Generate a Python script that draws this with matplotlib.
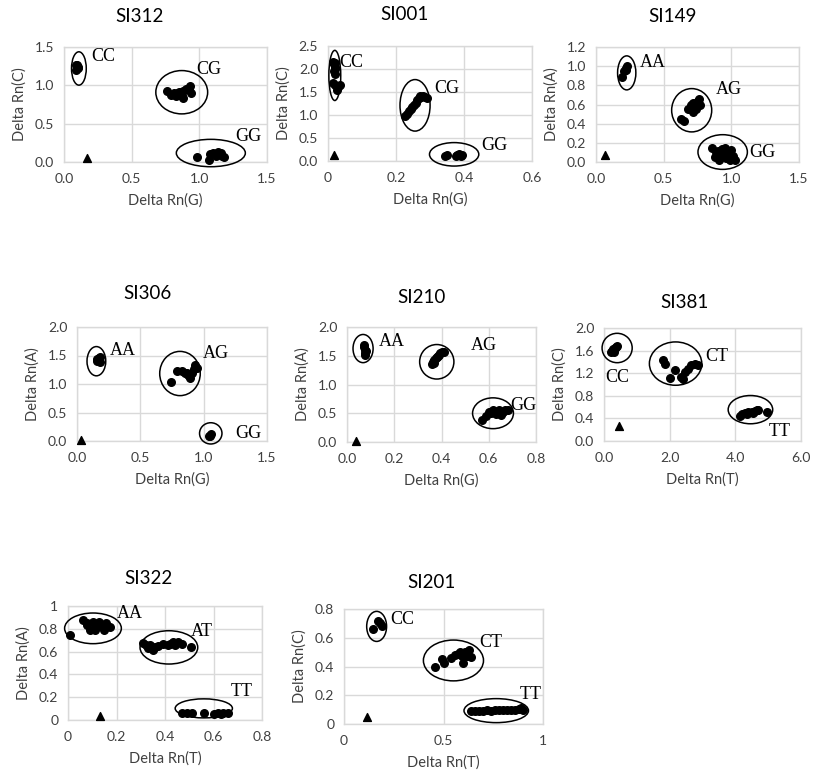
import matplotlib
matplotlib.use("Agg")
import matplotlib.pyplot as plt
from matplotlib.patches import Ellipse
from matplotlib.ticker import FixedLocator, FixedFormatter

plt.rcParams['font.family'] = ['Lato', 'DejaVu Sans']

W, H = 813, 774

# ---------------- data ----------------
# SI312
si312_x = [0.09, 0.10, 0.09, 0.10, 0.095,
           0.76, 0.79, 0.81, 0.83, 0.85, 0.86, 0.88, 0.88, 0.90, 0.92, 0.93, 0.94, 0.87, 0.84,
           0.98, 1.07, 1.08, 1.10, 1.12, 1.14, 1.15, 1.16, 1.17, 1.18, 1.13]
si312_y = [1.26, 1.22, 1.20, 1.24, 1.27,
           0.92, 0.88, 0.90, 0.86, 0.91, 0.88, 0.84, 0.92, 0.95, 0.96, 0.99, 0.90, 0.86, 0.90,
           0.06, 0.03, 0.10, 0.12, 0.08, 0.13, 0.10, 0.12, 0.08, 0.06, 0.10]
si312_ntc = (0.17, 0.05)

# SI001
si001_x = [0.015, 0.018, 0.02, 0.02, 0.018, 0.02, 0.015, 0.02, 0.03, 0.035, 0.025, 0.022,
           0.225, 0.232, 0.238, 0.243, 0.248, 0.253, 0.258, 0.263, 0.268, 0.273, 0.280, 0.286, 0.29, 0.27,
           0.345, 0.35, 0.375, 0.38, 0.39, 0.395, 0.385]
si001_y = [2.15, 2.10, 2.05, 2.00, 1.95, 1.90, 1.70, 1.65, 1.60, 1.65, 1.55, 2.12,
           0.97, 1.03, 1.09, 1.13, 1.18, 1.22, 1.27, 1.32, 1.36, 1.40, 1.42, 1.40, 1.38, 1.42,
           0.10, 0.12, 0.10, 0.14, 0.10, 0.12, 0.15]
si001_ntc = (0.017, 0.13)

# SI149
si149_x = [0.19, 0.21, 0.22, 0.23, 0.22,
           0.63, 0.65, 0.68, 0.70, 0.71, 0.72, 0.73, 0.74, 0.75, 0.76, 0.77, 0.74, 0.72, 0.70,
           0.86, 0.88, 0.89, 0.90, 0.92, 0.93, 0.94, 0.95, 0.96, 0.97, 0.98, 1.00, 1.01, 1.03, 0.91, 0.99]
si149_y = [0.89, 0.95, 0.98, 1.00, 0.96,
           0.45, 0.43, 0.55, 0.60, 0.57, 0.62, 0.58, 0.55, 0.64, 0.66, 0.60, 0.62, 0.52, 0.56,
           0.15, 0.05, 0.10, 0.12, 0.06, 0.14, 0.09, 0.15, 0.04, 0.12, 0.08, 0.13, 0.06, 0.02, 0.02, 0.02]
si149_ntc = (0.066, 0.07)

# SI306
si306_x = [0.16, 0.17, 0.18, 0.17, 0.18, 0.16,
           0.74, 0.79, 0.83, 0.85, 0.88, 0.89, 0.92, 0.93, 0.945, 0.905, 0.87,
           1.04, 1.06, 1.05]
si306_y = [1.40, 1.45, 1.48, 1.42, 1.38, 1.44,
           1.03, 1.23, 1.23, 1.20, 1.15, 1.11, 1.26, 1.34, 1.28, 1.20, 1.19,
           0.08, 0.12, 0.09]
si306_ntc = (0.03, 0.01)

# SI210
si210_x = [0.07, 0.075, 0.075, 0.08, 0.073, 0.078,
           0.36, 0.365, 0.37, 0.375, 0.38, 0.385, 0.39, 0.395, 0.40, 0.41, 0.37,
           0.57, 0.59, 0.60, 0.61, 0.62, 0.63, 0.64, 0.65, 0.66, 0.67, 0.68, 0.645]
si210_y = [1.65, 1.60, 1.55, 1.58, 1.68, 1.52,
           1.36, 1.40, 1.43, 1.46, 1.48, 1.50, 1.52, 1.55, 1.56, 1.57, 1.38,
           0.39, 0.46, 0.52, 0.50, 0.55, 0.48, 0.53, 0.47, 0.52, 0.55, 0.56, 0.56]
si210_ntc = (0.04, 0.02)

# SI381
si381_x = [0.22, 0.25, 0.28, 0.32, 0.36, 0.40, 0.30,
           1.79, 1.86, 2.01, 2.16, 2.36, 2.46, 2.56, 2.66, 2.76, 2.86, 2.41,
           4.15, 4.20, 4.30, 4.40, 4.50, 4.60, 4.70, 4.55, 4.35, 4.95, 4.65]
si381_y = [1.57, 1.60, 1.62, 1.65, 1.67, 1.68, 1.58,
           1.43, 1.37, 1.12, 1.25, 1.13, 1.22, 1.28, 1.34, 1.37, 1.34, 1.10,
           0.45, 0.48, 0.50, 0.51, 0.52, 0.53, 0.54, 0.50, 0.47, 0.52, 0.55]
si381_ntc = (0.45, 0.27)

# SI322
si322_x = [0.01, 0.062, 0.078, 0.089, 0.103, 0.117, 0.128, 0.137, 0.147, 0.155, 0.175, 0.08, 0.11,
           0.309, 0.33, 0.35, 0.371, 0.392, 0.412, 0.433, 0.454, 0.471, 0.506, 0.32, 0.34, 0.36, 0.42, 0.44,
           0.47, 0.49, 0.51, 0.56, 0.60, 0.62, 0.64, 0.66, 0.63]
si322_y = [0.746, 0.877, 0.848, 0.789, 0.863, 0.819, 0.863, 0.825, 0.789, 0.848, 0.813, 0.83, 0.79,
           0.673, 0.63, 0.61, 0.65, 0.67, 0.66, 0.68, 0.687, 0.667, 0.637, 0.66, 0.66, 0.64, 0.67, 0.66,
           0.06, 0.06, 0.06, 0.06, 0.055, 0.06, 0.06, 0.065, 0.05]
si322_ntc = (0.13, 0.035)

# SI201
si201_x = [0.148, 0.173, 0.19, 0.181,
           0.455, 0.49, 0.505, 0.54, 0.56, 0.575, 0.592, 0.596, 0.61, 0.626, 0.64, 0.617, 0.584,
           0.64, 0.66, 0.68, 0.70, 0.72, 0.74, 0.76, 0.78, 0.80, 0.82, 0.84, 0.86, 0.88, 0.90, 0.89]
si201_y = [0.66, 0.72, 0.68, 0.70,
           0.40, 0.45, 0.423, 0.458, 0.48, 0.49, 0.47, 0.423, 0.50, 0.516, 0.465, 0.473, 0.50,
           0.09, 0.09, 0.09, 0.09, 0.095, 0.09, 0.095, 0.10, 0.10, 0.095, 0.10, 0.10, 0.105, 0.10, 0.11]
si201_ntc = (0.114, 0.047)

# tick labels
ticks_05_15 = ["0.0", "0.5", "1.0", "1.5"]
ticks_00_25 = ["0.0", "0.5", "1.0", "1.5", "2.0", "2.5"]
ticks_0_06 = ["0", "0.2", "0.4", "0.6"]
ticks_12 = ["0.0", "0.2", "0.4", "0.6", "0.8", "1.0", "1.2"]
ticks_20 = ["0.0", "0.5", "1.0", "1.5", "2.0"]
ticks_08 = ["0.0", "0.2", "0.4", "0.6", "0.8"]
ticks_y381 = ["0.0", "0.4", "0.8", "1.2", "1.6", "2.0"]
ticks_x381 = ["0.0", "2.0", "4.0", "6.0"]
ticks_x322 = ["0", "0.2", "0.4", "0.6", "0.8"]
ticks_y322 = ["0", "0.2", "0.4", "0.6", "0.8", "1"]
ticks_x201 = ["0", "0.5", "1"]
ticks_y201 = ["0", "0.2", "0.4", "0.6", "0.8"]

# ---------------- layout / annotations ----------------
panels = [
    dict(title="SI312", x=si312_x, y=si312_y, ntc=si312_ntc,
         box=(64, 47, 267, 162), tpos=(140, 17),
         xt=ticks_05_15, yt=ticks_05_15, xl="Delta Rn(G)", yl="Delta Rn(C)",
         ell=[(0.11, 1.22, 0.109, 0.435), (0.87, 0.91, 0.383, 0.565), (1.085, 0.117, 0.51, 0.357)],
         lab=[("CC", 0.29, 1.37), ("CG", 1.07, 1.20), ("GG", 1.36, 0.33)]),
    dict(title="SI001", x=si001_x, y=si001_y, ntc=si001_ntc,
         box=(328, 46, 532, 161), tpos=(405, 15),
         xt=ticks_0_06, yt=ticks_00_25, xl="Delta Rn(G)", yl="Delta Rn(C)",
         ell=[(0.02, 1.86, 0.035, 1.09), (0.256, 1.21, 0.0885, 1.12), (0.371, 0.145, 0.145, 0.51)],
         lab=[("CC", 0.069, 2.15), ("CG", 0.35, 1.57), ("GG", 0.49, 0.34)]),
    dict(title="SI149", x=si149_x, y=si149_y, ntc=si149_ntc,
         box=(596, 47, 799, 162), tpos=(673, 17),
         xt=ticks_05_15, yt=ticks_12, xl="Delta Rn(G)", yl="Delta Rn(A)",
         ell=[(0.227, 0.93, 0.135, 0.355), (0.707, 0.54, 0.296, 0.452), (0.936, 0.104, 0.365, 0.362)],
         lab=[("AA", 0.42, 1.04), ("AG", 0.98, 0.755), ("GG", 1.23, 0.10)]),
    dict(title="SI306", x=si306_x, y=si306_y, ntc=si306_ntc,
         box=(77, 327, 267, 441), tpos=(147, 293),
         xt=ticks_05_15, yt=ticks_20, xl="Delta Rn(G)", yl="Delta Rn(A)",
         ell=[(0.153, 1.40, 0.148, 0.513), (0.813, 1.184, 0.32, 0.776), (1.056, 0.134, 0.177, 0.373)],
         lab=[("AA", 0.364, 1.59), ("AG", 1.10, 1.53), ("GG", 1.355, 0.134)]),
    dict(title="SI210", x=si210_x, y=si210_y, ntc=si210_ntc,
         box=(347, 327, 536, 442), tpos=(422, 298),
         xt=ticks_08, yt=ticks_20, xl="Delta Rn(G)", yl="Delta Rn(A)",
         ell=[(0.068, 1.625, 0.085, 0.49), (0.38, 1.395, 0.145, 0.60), (0.618, 0.50, 0.173, 0.536)],
         lab=[("AA", 0.188, 1.74), ("AG", 0.578, 1.68), ("GG", 0.748, 0.63)]),
    dict(title="SI381", x=si381_x, y=si381_y, ntc=si381_ntc,
         box=(604, 328, 801, 441), tpos=(685, 302),
         xt=ticks_x381, yt=ticks_y381, xl="Delta Rn(T)", yl="Delta Rn(C)",
         ell=[(0.40, 1.646, 0.917, 0.52), (2.18, 1.37, 1.595, 0.767), (4.46, 0.555, 1.356, 0.50)],
         lab=[("CC", 0.40, 1.13), ("CT", 3.43, 1.50), ("TT", 5.35, 0.16)]),
    dict(title="SI322", x=si322_x, y=si322_y, ntc=si322_ntc,
         box=(68, 606, 262, 720), tpos=(148, 578),
         xt=ticks_x322, yt=ticks_y322, xl="Delta Rn(T)", yl="Delta Rn(A)",
         ell=[(0.103, 0.804, 0.234, 0.269), (0.416, 0.637, 0.238, 0.292), (0.56, 0.102, 0.236, 0.167)],
         lab=[("AA", 0.257, 0.93), ("AT", 0.553, 0.775), ("TT", 0.718, 0.249)]),
    dict(title="SI201", x=si201_x, y=si201_y, ntc=si201_ntc,
         box=(344, 609, 543, 724), tpos=(432, 582),
         xt=ticks_x201, yt=ticks_y201, xl="Delta Rn(T)", yl="Delta Rn(C)",
         ell=[(0.164, 0.679, 0.10, 0.209), (0.55, 0.442, 0.302, 0.284), (0.765, 0.093, 0.324, 0.167)],
         lab=[("CC", 0.294, 0.726), ("CT", 0.735, 0.567), ("TT", 0.936, 0.202)]),
]

GRID = "#d9d9d9"
TXT = "#404040"

fig = plt.figure(figsize=(W / 100, H / 100), dpi=100)
fig.patch.set_facecolor("white")

for p in panels:
    l, t, r, b = p["box"]
    ax = fig.add_axes([l / W, 1 - b / H, (r - l) / W, (b - t) / H])
    xv = [float(s) for s in p["xt"]]
    yv = [float(s) for s in p["yt"]]
    ax.set_xlim(xv[0], xv[-1])
    ax.set_ylim(yv[0], yv[-1])
    ax.xaxis.set_major_locator(FixedLocator(xv))
    ax.xaxis.set_major_formatter(FixedFormatter(p["xt"]))
    ax.yaxis.set_major_locator(FixedLocator(yv))
    ax.yaxis.set_major_formatter(FixedFormatter(p["yt"]))
    ax.grid(True, color=GRID, linewidth=1.0)
    ax.set_axisbelow(True)
    for sp in ax.spines.values():
        sp.set_color(GRID)
        sp.set_linewidth(1.0)
    ax.tick_params(axis="x", length=0, labelsize=10, colors=TXT, pad=8)
    ax.tick_params(axis="y", length=0, labelsize=10, colors=TXT, pad=7)
    ax.set_xlabel(p["xl"], fontsize=10.5, color=TXT, labelpad=6)
    ax.set_ylabel(p["yl"], fontsize=10.5, color=TXT, labelpad=6)
    ax.scatter(p["x"], p["y"], s=30, color="black", zorder=3, clip_on=False)
    ax.scatter([p["ntc"][0]], [p["ntc"][1]], s=32, marker="^", color="black", zorder=3, clip_on=False)
    for (cx, cy, w, h) in p["ell"]:
        ax.add_patch(Ellipse((cx, cy), w, h, fill=False, edgecolor="black", linewidth=1.1,
                             zorder=4, clip_on=False))
    for (txt, lx, ly) in p["lab"]:
        ax.text(lx, ly, txt, fontsize=13, family=["Liberation Serif", "DejaVu Serif"],
                ha="center", va="center", color="black", zorder=5, clip_on=False)
    fig.text(p["tpos"][0] / W, 1 - p["tpos"][1] / H, p["title"], fontsize=13.5,
             ha="center", va="center", color="black")

fig.savefig("out.png", dpi=100, facecolor="white")
